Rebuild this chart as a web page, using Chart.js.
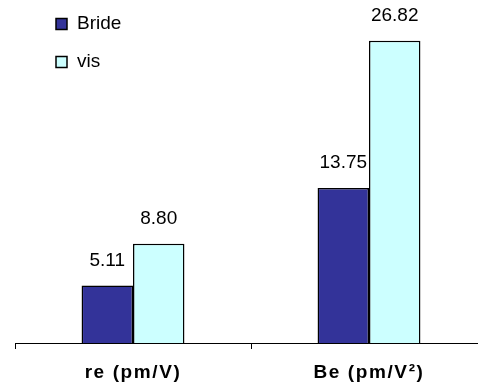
<!DOCTYPE html>
<html>
<head>
<meta charset="utf-8">
<script src="https://cdn.jsdelivr.net/npm/chart.js@4/dist/chart.umd.min.js"></script>
<style>
  html, body { margin: 0; padding: 0; background: #fff; overflow: hidden; }
  #wrap { width: 490px; height: 387px; position: relative; }
</style>
</head>
<body>
<div id="wrap"><canvas id="barChart"></canvas></div>
<script>
const categories = ['re (pm/V)', 'Be (pm/V²)'];
const brideValues = [5.11, 13.75];
const visValues = [8.80, 26.82];
const seriesNames = ['Bride', 'vis'];

const FONT = '"Liberation Sans", Arial, sans-serif';

// value labels above every bar
const valueLabels = {
    id: 'valueLabels',
    afterDatasetsDraw(chart) {
        const ctx = chart.ctx;
        ctx.save();
        ctx.letterSpacing = '0px';
        ctx.font = '19px ' + FONT;
        ctx.fillStyle = '#000';
        ctx.textAlign = 'center';
        ctx.textBaseline = 'middle';
        chart.data.datasets.forEach((ds, i) => {
            chart.getDatasetMeta(i).data.forEach((bar, j) => {
                ctx.fillText(ds.data[j].toFixed(2), bar.x, bar.y - 25);
            });
        });
        ctx.restore();
    }
};

// legend stacked vertically in the top left corner
const stackedLegend = {
    id: 'stackedLegend',
    afterDraw(chart) {
        const ctx = chart.ctx;
        ctx.save();
        ctx.letterSpacing = '0px';
        ctx.font = '19px ' + FONT;
        ctx.textBaseline = 'middle';
        chart.data.datasets.forEach((ds, i) => {
            const y = 24 + i * 38;
            ctx.fillStyle = ds.backgroundColor;
            ctx.strokeStyle = '#000';
            ctx.lineWidth = 1.5;
            ctx.fillRect(56, y - 5.5, 11, 11);
            ctx.strokeRect(56, y - 5.5, 11, 11);
            ctx.fillStyle = '#000';
            ctx.fillText(ds.label, 77, y);
        });
        ctx.restore();
    }
};

// slightly spaced axis labels, like the original
const spacedTicks = {
    id: 'spacedTicks',
    beforeDraw(chart) { chart.ctx.letterSpacing = '1.6px'; },
    beforeDatasetsDraw(chart) { chart.ctx.letterSpacing = '0px'; }
};

const ctx = document.getElementById('barChart').getContext('2d');

new Chart(ctx, {
    type: 'bar',
    data: {
        labels: categories,
        datasets: [
            {
                label: seriesNames[0],
                data: brideValues,
                backgroundColor: '#333399',
                borderColor: '#000',
                borderWidth: 1.5
            },
            {
                label: seriesNames[1],
                data: visValues,
                backgroundColor: '#CCFFFF',
                borderColor: '#000',
                borderWidth: 1.5
            }
        ]
    },
    options: {
        responsive: true,
        maintainAspectRatio: false,
        animation: false,
        layout: { padding: { left: 15, right: 3, top: 5, bottom: 0 } },
        datasets: {
            bar: { categoryPercentage: 0.436, barPercentage: 1 }
        },
        plugins: {
            legend: { display: false },
            tooltip: { enabled: false }
        },
        scales: {
            y: {
                display: false,
                min: 0,
                max: 30
            },
            x: {
                afterFit(scale) { scale.height = 44; },
                border: { display: true, color: '#000', width: 1 },
                grid: {
                    display: true,
                    offset: true,
                    drawOnChartArea: false,
                    drawTicks: true,
                    tickLength: 6,
                    color: '#000'
                },
                ticks: {
                    color: '#000',
                    padding: 12,
                    font: { family: FONT, size: 19, weight: 'bold' },
                    maxRotation: 0
                }
            }
        }
    },
    plugins: [valueLabels, stackedLegend, spacedTicks]
});
</script>
</body>
</html>
